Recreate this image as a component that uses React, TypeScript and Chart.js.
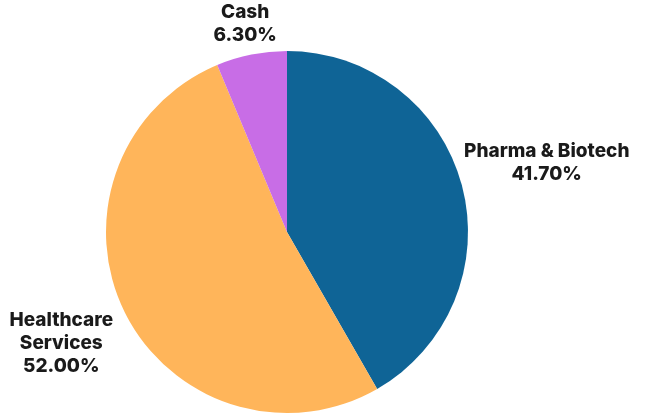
import React, { useEffect, useRef } from "react";
import { Chart, registerables } from "chart.js";

Chart.register(...registerables);

const categories = ["Pharma & Biotech", "Healthcare Services", "Cash"];
const labelLines = [["Pharma & Biotech"], ["Healthcare", "Services"], ["Cash"]];
const values = [41.7, 52.0, 6.3];
const colors = ["#0F6496", "#FFB55A", "#C86DE6"];

const LABEL_OFFSETS = [2, 9, 3];
const FONT = "800 19px Inter";
const LINE_H = 23;

const labelPlugin = {
  id: "outerLabels",
  afterDraw(chart: any) {
    const ctx = chart.ctx;
    const meta = chart.getDatasetMeta(0);
    ctx.save();
    ctx.font = FONT;
    ctx.fillStyle = "#1a1a1a";
    ctx.textAlign = "center";
    ctx.textBaseline = "middle";
    meta.data.forEach((arc: any, i: number) => {
      const p = arc.getProps(["x", "y", "startAngle", "endAngle", "outerRadius"], true);
      const mid = (p.startAngle + p.endAngle) / 2;
      const lines = [...labelLines[i], values[i].toFixed(2) + "%"];
      const w = Math.max(...lines.map((l: string) => ctx.measureText(l).width));
      const h = lines.length * LINE_H;
      const cx = Math.cos(mid), sy = Math.sin(mid);
      const proj = (w / 2) * Math.abs(cx) + (h / 2) * Math.abs(sy);
      const d = p.outerRadius + LABEL_OFFSETS[i] + proj;
      const x = p.x + cx * d;
      const y = p.y + sy * d;
      lines.forEach((l: string, k: number) => {
        ctx.fillText(l, x, y - h / 2 + LINE_H * (k + 0.5));
      });
    });
    ctx.restore();
  },
};

export default function App() {
  const ref = useRef<HTMLCanvasElement>(null);
  useEffect(() => {
    document.body.style.margin = "0";
    const chart = new Chart(ref.current!, {
      type: "pie",
      data: {
        labels: categories,
        datasets: [
          {
            data: values,
            backgroundColor: colors,
            borderWidth: 0,
          },
        ],
      },
      options: {
        animation: false,
        responsive: false,
        layout: { padding: { top: 51, bottom: 1, left: 106, right: 179 } },
        plugins: { legend: { display: false }, tooltip: { enabled: false } },
      },
      plugins: [labelPlugin],
    });
    return () => chart.destroy();
  }, []);
  return (
    <div style={{ width: 647, height: 414, background: "#fff" }}>
      <canvas ref={ref} width={647} height={414} />
    </div>
  );
}
